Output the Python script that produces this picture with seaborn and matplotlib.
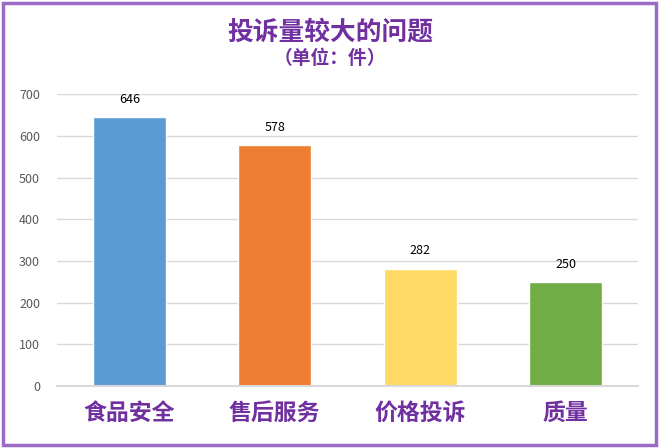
import seaborn as sns
import matplotlib.pyplot as plt
from matplotlib.patches import Rectangle

# data
categories = ["食品安全", "售后服务", "价格投诉", "质量"]
counts = [646, 578, 282, 250]
bar_colors = ["#5B9BD5", "#ED7D31", "#FFD966", "#70AD47"]

sns.set_theme(style="white")
plt.rcParams['font.family'] = ['Noto Sans CJK SC', 'DejaVu Sans']

fig = plt.figure(figsize=(6.6, 4.48), dpi=100)
ax = fig.add_axes([0.086, 0.138, 0.881, 0.652])

sns.barplot(x=categories, y=counts, hue=categories, palette=bar_colors,
            width=0.5, legend=False, ax=ax, saturation=1)

ax.set_ylim(0, 700)
ax.set_yticks(range(0, 701, 100))
ax.yaxis.grid(True, color="#D9D9D9", linewidth=1)
ax.set_axisbelow(True)
for s in ["top", "right", "left"]:
    ax.spines[s].set_visible(False)
ax.spines["bottom"].set_color("#D9D9D9")
ax.spines["bottom"].set_linewidth(1.5)
ax.tick_params(axis="y", labelsize=9, colors="#595959", length=0, pad=12)
ax.tick_params(axis="x", length=0, pad=11)
for lbl in ax.get_xticklabels():
    lbl.set_fontsize(16.5)
    lbl.set_fontweight("bold")
    lbl.set_color("#7030A0")
ax.set_xlabel("")
ax.set_ylabel("")

for c in ax.containers:
    ax.bar_label(c, padding=8, fontsize=9, color="black")

fig.text(0.5, 0.928, "投诉量较大的问题", ha="center", va="center",
         fontsize=18.5, fontweight="bold", color="#7030A0")
fig.text(0.5, 0.87, "（单位：件）", ha="center", va="center",
         fontsize=13.5, fontweight="bold", color="#7030A0")

fig.patches.append(Rectangle((0.004, 0.006), 0.99, 0.988, transform=fig.transFigure,
                             fill=False, edgecolor="#9B6BC6", linewidth=2.5))

fig.savefig("out.png", dpi=100)
